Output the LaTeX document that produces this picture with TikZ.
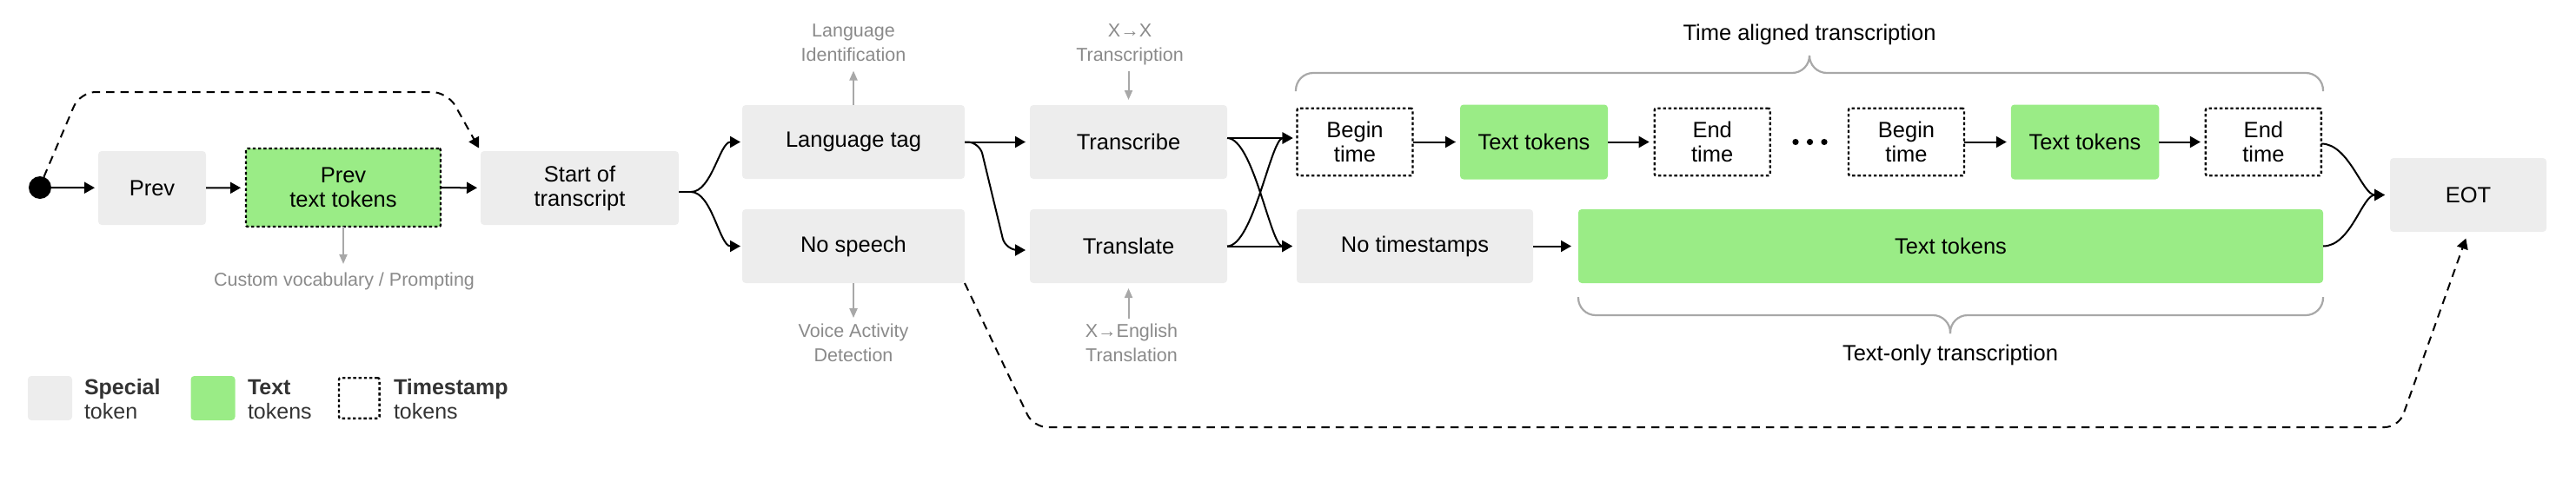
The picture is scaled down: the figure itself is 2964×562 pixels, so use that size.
\documentclass[tikz,border=0pt]{standalone}
\usepackage{fontspec}
\setmainfont{Liberation Sans}
\usetikzlibrary{arrows.meta,calc}
\definecolor{tokgray}{HTML}{EDEDED}
\definecolor{tokgreen}{HTML}{9AEC86}
\definecolor{anngray}{HTML}{8A8A8A}
\definecolor{arrgray}{HTML}{A8A8A8}
\definecolor{legtext}{HTML}{333333}
\begin{document}
\begin{tikzpicture}[x=1pt,y=-1pt,
  every node/.style={inner sep=0pt, outer sep=0pt},
  box/.style={rounded corners=4pt, align=center, font=\fontsize{25.5}{28}\selectfont, text=black},
  special/.style={box, fill=tokgray},
  texttok/.style={box, fill=tokgreen},
  stampline/.style={draw=black, line width=2.4pt, dash pattern=on 3.4pt off 2.8pt},
  stamp/.style={box, stampline, rounded corners=2pt},
  arr/.style={line width=2pt, -{Triangle[length=12pt,width=13pt]}, shorten >=4pt},
  dasharr/.style={arr, dash pattern=on 9.5pt off 7pt},
  gann/.style={align=center, text=anngray, font=\fontsize{21.5}{28}\selectfont},
  garr/.style={line width=2pt, draw=arrgray, -{Triangle[length=11pt,width=9pt]}},
  brace/.style={draw=arrgray, line width=2.2pt, rounded corners=20pt},
  lbl/.style={font=\fontsize{25.5}{28}\selectfont, text=black},
  leg/.style={align=left, text=legtext, font=\fontsize{25}{28}\selectfont, anchor=west},
]
\useasboundingbox (0,0) rectangle (2964,562);

% ---- nodes
\node[fill=black, circle, minimum size=26pt] (circ) at (46,216) {};
\node[special, minimum width=124pt, minimum height=85pt] (prev) at (175,216.5) {Prev};
\node[texttok, stampline, rounded corners=2pt, minimum width=224pt, minimum height=90pt] (ptt) at (395,216) {Prev\\text tokens};
\node[special, minimum width=228pt, minimum height=85pt] (sot) at (667,216.5) {Start of\\transcript};
\node[special, minimum width=256pt, minimum height=85pt] (lang) at (982,163.5) {Language tag};
\node[special, minimum width=256pt, minimum height=85pt] (nosp) at (982,283.5) {No speech};
\node[special, minimum width=227pt, minimum height=85pt] (trc) at (1298.5,163.5) {Transcribe};
\node[special, minimum width=227pt, minimum height=85pt] (trl) at (1298.5,283.5) {Translate};

\node[stamp, minimum width=133pt, minimum height=77.5pt] (bt1) at (1559,163.5) {Begin\\time};
\node[texttok, minimum width=170pt, minimum height=86pt] (tt1) at (1765,163.5) {Text tokens};
\node[stamp, minimum width=133pt, minimum height=77.5pt] (et1) at (1970.2,163.5) {End\\time};
\node[minimum width=40pt, minimum height=8pt] (dots) at (2082.5,163.5) {};
\fill (2066,163.5) circle (3.6pt) (2082.5,163.5) circle (3.6pt) (2099,163.5) circle (3.6pt);
\node[stamp, minimum width=133pt, minimum height=77.5pt] (bt2) at (2193.5,163.5) {Begin\\time};
\node[texttok, minimum width=170.5pt, minimum height=86pt] (tt2) at (2399,163.5) {Text tokens};
\node[stamp, minimum width=133pt, minimum height=77.5pt] (et2) at (2604.4,163.5) {End\\time};

\node[special, minimum width=272pt, minimum height=85pt] (nots) at (1628,283.5) {No timestamps};
\node[texttok, minimum width=857pt, minimum height=85pt] (ttall) at (2244.5,283.5) {Text tokens};
\node[special, minimum width=180pt, minimum height=85pt] (eot) at (2840,224.5) {EOT};

% ---- annotations
\node[gann] (cv) at (396,324) {Custom vocabulary / Prompting};
\node[gann] (lid) at (982,49) {Language\\Identification};
\node[gann] (xx) at (1300,51.5) {X→X\\Transcription};
\node[gann] (vad) at (982,395) {Voice Activity\\Detection};
\node[gann] (xe) at (1302,395) {X→English\\Translation};

\draw[garr, shorten >=10pt] (ptt.south) -- (ptt.south |- cv.north);
\draw[garr, shorten >=11pt] (lang.north) -- (lid.south);
\draw[garr, shorten <=6.5pt, shorten >=6pt] (trc.north |- xx.south) -- (trc.north);
\draw[garr, shorten >=7pt] (nosp.south) -- (vad.north);
\draw[garr, shorten <=6pt, shorten >=6pt] (trl.south |- xe.north) -- (trl.south);

% ---- braces
\node[lbl] (tal) at (2082,40) {Time aligned transcription};
\node[lbl] (tot) at (2244,408.5) {Text-only transcription};
\draw[brace] (1491,105) -- (1491,84) -- (2082,84) -- (2082,64);
\draw[brace] (2673,105) -- (2673,84) -- (2082,84) -- (2082,64);
\draw[brace] (1816,342) -- (1816,363) -- (2244,363) -- (2244,384);
\draw[brace] (2673,342) -- (2673,363) -- (2244,363) -- (2244,384);

% ---- connectors
\draw[arr] (circ) -- (prev);
\draw[arr, shorten >=6pt] (prev) -- (ptt);
\draw[arr] (ptt) -- (sot);

\coordinate (fork) at (795,221);
\draw[line width=2pt] ([yshift=-4.5pt]sot.east) -- (fork);
\draw[arr, shorten >=2pt] (fork) .. controls +(24,0) and +(-26,0) .. (lang.west);
\draw[arr, shorten >=2pt] (fork) .. controls +(24,0) and +(-26,0) .. (nosp.west);

\draw[arr, shorten >=5pt] (lang) -- (trc);
\draw[arr, shorten >=5pt, rounded corners=14pt] (lang.east) -- ++(17,0) -- ([xshift=-28pt,yshift=-4.5pt]trl.west) -- ([yshift=-4.5pt]trl.west);

\coordinate (tA) at ([yshift=4.5pt]trc.east);
\coordinate (tB) at (trl.east);
\draw[arr, shorten >=5pt] (tA) -- (tA -| bt1.west);
\draw[arr, shorten >=5pt] (tB) -- (tB -| nots.west);
\draw[arr, shorten >=5pt] (tA) .. controls +(30,0) and +(-30,0) .. (tB -| nots.west);
\draw[arr, shorten >=5pt] (tB) .. controls +(30,0) and +(-30,0) .. (tA -| bt1.west);

\draw[arr, shorten >=5pt] (bt1) -- (tt1);
\draw[arr, shorten >=6pt] (tt1) -- (et1);
\draw[arr, shorten >=5pt] (bt2) -- (tt2);
\draw[arr, shorten >=6pt] (tt2) -- (et2);
\draw[arr, shorten >=8pt] (nots) -- (ttall);

\draw[arr, shorten >=6pt] ([yshift=-2pt]et2.east) .. controls +(32,0) and +(-32,0) .. (eot.west);
\draw[arr, shorten >=6pt] (ttall.east) .. controls +(32,0) and +(-32,0) .. (eot.west);

\draw[dasharr, rounded corners=18pt] (circ.70) -- (92,106) -- (515,106) -- (sot.north west);
\draw[dasharr, rounded corners=16pt, shorten >=8pt] (nosp.south east) -- (1189,492) -- (2760,492) -- (eot.south);

% ---- legend
\node[special, minimum size=51pt] (lsp) at (57.5,458.5) {};
\node[leg] (lspt) at (97,460) {\textbf{Special}\\token};
\node[texttok, minimum size=51pt] (ltx) at (245,458.5) {};
\node[leg] (ltxt) at (285,460) {\textbf{Text}\\tokens};
\node[stamp, minimum size=46.6pt] (lts) at (413.3,458.5) {};
\node[leg] (ltst) at (453,460) {\textbf{Timestamp}\\tokens};
\end{tikzpicture}
\end{document}
